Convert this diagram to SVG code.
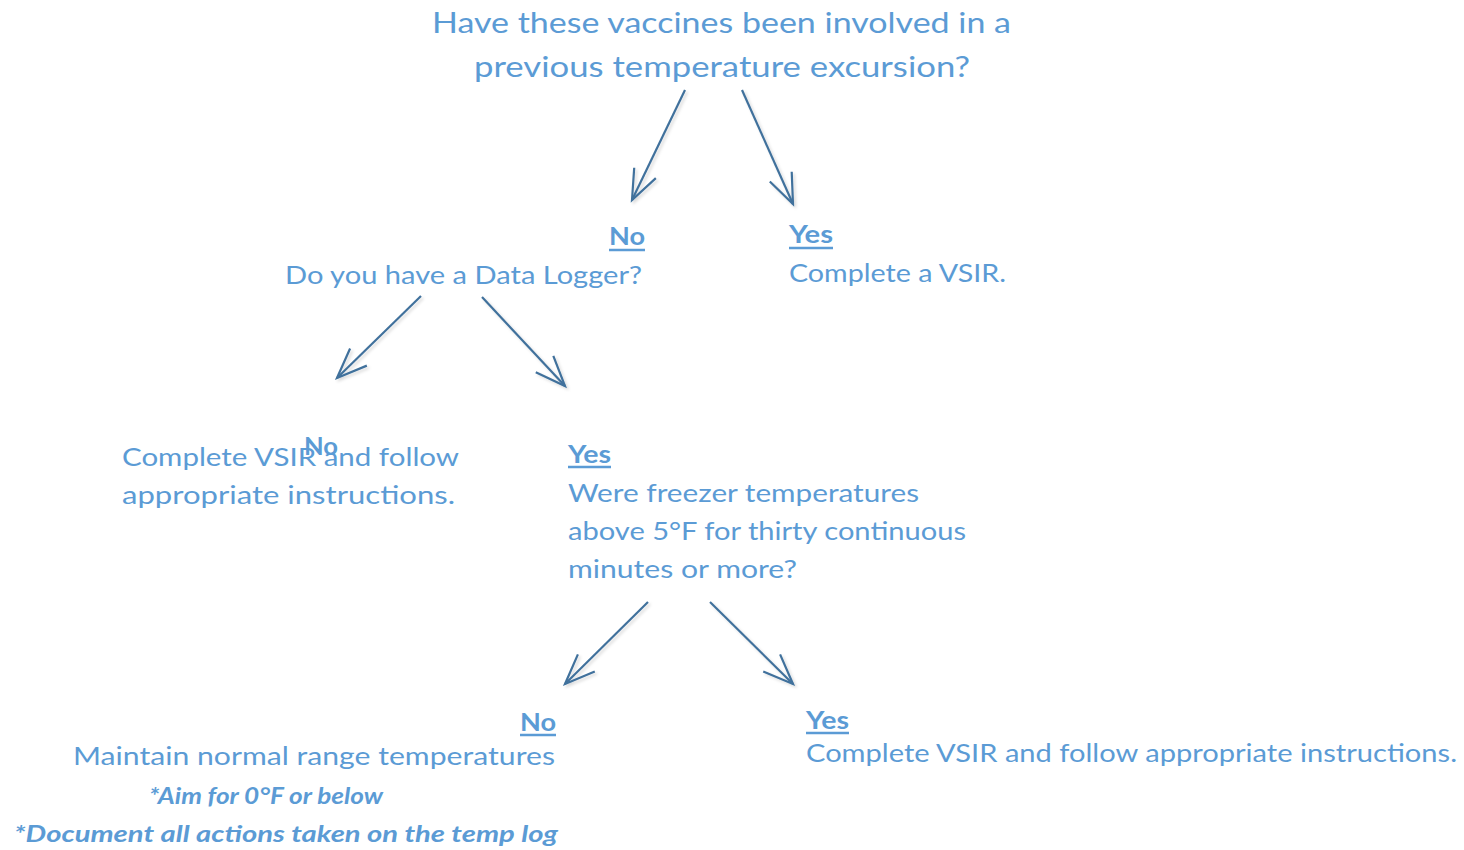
<svg xmlns="http://www.w3.org/2000/svg" width="1464" height="850" viewBox="0 0 1464 850">
<style>
text{font-family:Lato,"Liberation Sans",sans-serif;fill:#5B9BD5;}
.q{font-size:28px;}
.t{font-size:25px;}
.lb{font-size:25px;font-weight:bold;}
.note{font-size:22px;font-weight:bold;font-style:italic;}
.ul{stroke:#5B9BD5;stroke-width:2.5;}
.conn line{stroke:#41719C;stroke-width:2.2;fill:none;marker-end:url(#arr);filter:url(#sh);}
</style>
<defs>
<marker id="arr" markerUnits="userSpaceOnUse" markerWidth="40" markerHeight="30" viewBox="-32 -15 36 30" refX="0" refY="0" orient="auto">
<path d="M-30,-12 L0,0 L-30,12" fill="none" stroke="#41719C" stroke-width="2.2"/>
</marker>
<filter id="sh" x="-20%" y="-20%" width="140%" height="140%">
<feDropShadow dx="2" dy="2" stdDeviation="1.5" flood-color="#000" flood-opacity="0.15"/>
</filter>
</defs>
<rect width="1464" height="850" fill="#fff"/>
<g id="q1">
<text class="q" x="432" y="33" textLength="579" lengthAdjust="spacingAndGlyphs">Have these vaccines been involved in a</text>
<text class="q" x="474" y="77" textLength="496" lengthAdjust="spacingAndGlyphs">previous temperature excursion?</text>
</g>
<g id="q2">
<text class="lb" x="609" y="245" textLength="36" lengthAdjust="spacingAndGlyphs">No</text>
<line class="ul" x1="609" y1="250" x2="645" y2="250"/>
<text class="t" x="285" y="284" textLength="357" lengthAdjust="spacingAndGlyphs">Do you have a Data Logger?</text>
</g>
<g id="r1">
<text class="lb" x="789" y="243" textLength="44" lengthAdjust="spacingAndGlyphs">Yes</text>
<line class="ul" x1="789" y1="248" x2="833" y2="248"/>
<text class="t" x="789" y="282" textLength="217" lengthAdjust="spacingAndGlyphs">Complete a VSIR.</text>
</g>
<g id="r2">
<text class="t" x="122" y="466" textLength="337" lengthAdjust="spacingAndGlyphs">Complete VSIR and follow</text>
<text class="t" x="122" y="504" textLength="333" lengthAdjust="spacingAndGlyphs">appropriate instructions.</text>
<text class="lb" x="304" y="455" textLength="34" lengthAdjust="spacingAndGlyphs">No</text>
</g>
<g id="q3">
<text class="lb" x="568" y="463" textLength="43" lengthAdjust="spacingAndGlyphs">Yes</text>
<line class="ul" x1="568" y1="467" x2="611" y2="467"/>
<text class="t" x="568" y="502" textLength="351" lengthAdjust="spacingAndGlyphs">Were freezer temperatures</text>
<text class="t" x="568" y="540" textLength="398" lengthAdjust="spacingAndGlyphs">above 5°F for thirty continuous</text>
<text class="t" x="568" y="578" textLength="229" lengthAdjust="spacingAndGlyphs">minutes or more?</text>
</g>
<g id="r3">
<text class="lb" x="520" y="731" textLength="36" lengthAdjust="spacingAndGlyphs">No</text>
<line class="ul" x1="520" y1="735" x2="556" y2="735"/>
<text class="t" x="73" y="765" textLength="482" lengthAdjust="spacingAndGlyphs">Maintain normal range temperatures</text>
<text class="note" x="149" y="804" textLength="234" lengthAdjust="spacingAndGlyphs">*Aim for 0°F or below</text>
<text class="note" x="14" y="842" textLength="544" lengthAdjust="spacingAndGlyphs">*Document all actions taken on the temp log</text>
</g>
<g id="r4">
<text class="lb" x="806" y="729" textLength="43" lengthAdjust="spacingAndGlyphs">Yes</text>
<line class="ul" x1="806" y1="733" x2="849" y2="733"/>
<text class="t" x="806" y="762" textLength="651" lengthAdjust="spacingAndGlyphs">Complete VSIR and follow appropriate instructions.</text>
</g>
<g id="connectors" class="conn">
<line x1="685" y1="90" x2="632" y2="200"/>
<line x1="742" y1="90" x2="793" y2="204"/>
<line x1="421" y1="296" x2="337" y2="378"/>
<line x1="482" y1="297" x2="565" y2="386"/>
<line x1="648" y1="602" x2="565" y2="684"/>
<line x1="710" y1="602" x2="793" y2="684"/>
</g>
</svg>
